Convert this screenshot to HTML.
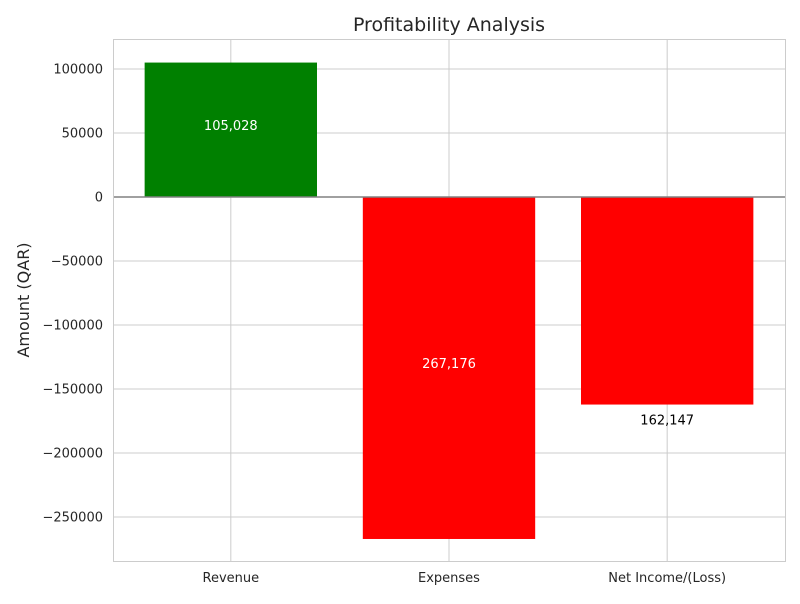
<!DOCTYPE html>
<html><head><meta charset="utf-8"><style>
body{margin:0;background:#fff;font-family:"DejaVu Sans","Liberation Sans",sans-serif}
svg text{font-family:"DejaVu Sans","Liberation Sans",sans-serif}
</style></head><body>
<svg id="c" width="800" height="600">
<rect x="0" y="0" width="800" height="600" fill="#fff"/>
<text x="449" y="31" font-size="19" text-anchor="middle" fill="#262626">Profitability Analysis</text>
<text transform="translate(29,300) rotate(-90)" font-size="16" text-anchor="middle" fill="#262626">Amount (QAR)</text>
<g id="grid"></g><g id="bars"></g><g id="labels"></g>
<rect x="113.5" y="39.5" width="672" height="522" fill="none" stroke="#ccc"/>
</svg>
<script>
const categories=["Revenue","Expenses","Net Income/(Loss)"];
const values=[105028,-267176,-162147];
const labels=["105,028","267,176","162,147"];
const yTicks=[100000,50000,0,-50000,-100000,-150000,-200000,-250000];
const NS="http://www.w3.org/2000/svg";
const L=113,R=785,T=39,B=561,yMax=123437,yMin=-284375,xMin=-0.54,xMax=2.54;
const y=v=>T+(yMax-v)/(yMax-yMin)*(B-T);
const x=i=>L+(i-xMin)/(xMax-xMin)*(R-L);
const bw=0.79*(x(1)-x(0));
function mk(t,a,p){const e=document.createElementNS(NS,t);for(const k in a)e.setAttribute(k,a[k]);p.appendChild(e);return e;}
const g=document.getElementById('grid'),b=document.getElementById('bars'),lb=document.getElementById('labels');
yTicks.forEach(v=>{
 const ln=mk('line',{x1:L,x2:R,y1:y(v),y2:y(v),stroke:'#ccc'},g);
 
 
 const t=mk('text',{x:L-10,y:y(v)+4.5,'font-size':13,'text-anchor':'end',fill:'#262626'},g);
 t.textContent=(v<0?'\u2212':'')+Math.abs(v);
 
 
});
categories.forEach((c,i)=>{
 const ln=mk('line',{x1:x(i),x2:x(i),y1:T,y2:B,stroke:'#ccc'},g);
 
 
 const t=mk('text',{x:x(i),y:B+21,'font-size':13,'text-anchor':'middle',fill:'#262626'},g);
 t.textContent=c;
 
 
});
categories.forEach((c,i)=>{
 const v=values[i];
 const r=mk('rect',{x:x(i)-bw/2,width:bw,y:Math.min(y(v),y(0)),height:Math.abs(y(v)-y(0)),fill:v>=0?'#008000':'#ff0000'},b);
 
 
 const last=i===categories.length-1;
 const ty=last?y(v)+20:(y(v)+y(0))/2;
 const t=mk('text',{x:x(i),y:ty,'font-size':13,'text-anchor':'middle',fill:last?'#000':'#fff'},lb);
 t.textContent=labels[i];
 
 
});
const z=mk('line',{x1:L,x2:R,y1:y(0),y2:y(0),stroke:'#808080','stroke-width':1.5},lb);


</script>
</body></html>
